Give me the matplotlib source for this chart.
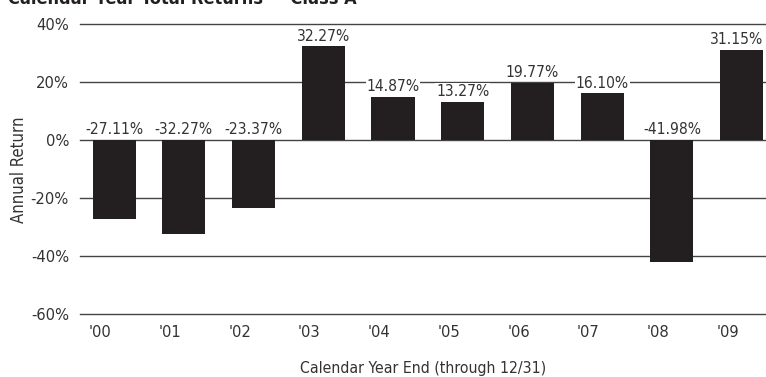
import matplotlib
matplotlib.use("Agg")
import matplotlib.pyplot as plt
from matplotlib.ticker import FuncFormatter

plt.rcParams['font.family'] = ['DejaVu Sans']
plt.rcParams['font.stretch'] = 'condensed'

years = ["'00", "'01", "'02", "'03", "'04", "'05", "'06", "'07", "'08", "'09"]
returns = [-27.11, -32.27, -23.37, 32.27, 14.87, 13.27, 19.77, 16.10, -41.98, 31.15]
y_ticks = [40, 20, 0, -20, -40, -60]

bar_color = '#231f20'
text_color = '#333333'
grid_color = '#444444'
bar_width = 0.62

fig = plt.figure(figsize=(7.66, 3.77), dpi=100)
ax = fig.add_axes([80 / 766, 1 - 314 / 377, 686 / 766, 290 / 377])

x = list(range(len(years)))
ax.bar(x, returns, width=bar_width, color=bar_color, zorder=3)

# horizontal rules at every tick, drawn under the bars
for t in y_ticks:
    ax.axhline(t, color=grid_color, lw=1.0, zorder=1, clip_on=False)

# value labels sit above the bar top, or above the zero line for losses;
# the last one is right-aligned so it stays inside the figure
for xi, v in zip(x, returns):
    base = max(v, 0)
    if xi == x[-1]:
        pos, ha = (xi + bar_width / 2, base), 'right'
    else:
        pos, ha = (xi, base), 'center'
    ax.annotate(f"{v:.2f}%", pos, xytext=(0, 2), textcoords='offset points',
                ha=ha, va='bottom', fontsize=11.2, color=text_color, zorder=4,
                bbox=dict(boxstyle='square,pad=0.05', fc='white', ec='none'))

ax.set_ylim(-60, 40)
ax.set_xlim(-0.49, 9.35)
ax.set_yticks(y_ticks)
ax.yaxis.set_major_formatter(FuncFormatter(lambda v, _: f"{v:.0f}%"))
ax.set_xticks([xi - 0.2 for xi in x])
ax.set_xticklabels(years)
ax.tick_params(axis='both', length=0, labelsize=11.8, labelcolor=text_color)
ax.tick_params(axis='x', pad=8)
ax.tick_params(axis='y', pad=8)
for s in ax.spines.values():
    s.set_visible(False)

ax.set_xlabel("Calendar Year End (through 12/31)", fontsize=11.3, color=text_color, labelpad=15)
fig.text(19 / 766, 1 - 170 / 377, "Annual Return", rotation=90, ha='center', va='center',
         fontsize=12, color=text_color)

fig.text(8 / 766, 1 - 4 / 377, "Calendar Year Total Returns \u2014 Class A", ha='left',
         va='baseline', fontsize=13, fontweight='bold', color='#231f20')

fig.savefig("out.png", dpi=100)
